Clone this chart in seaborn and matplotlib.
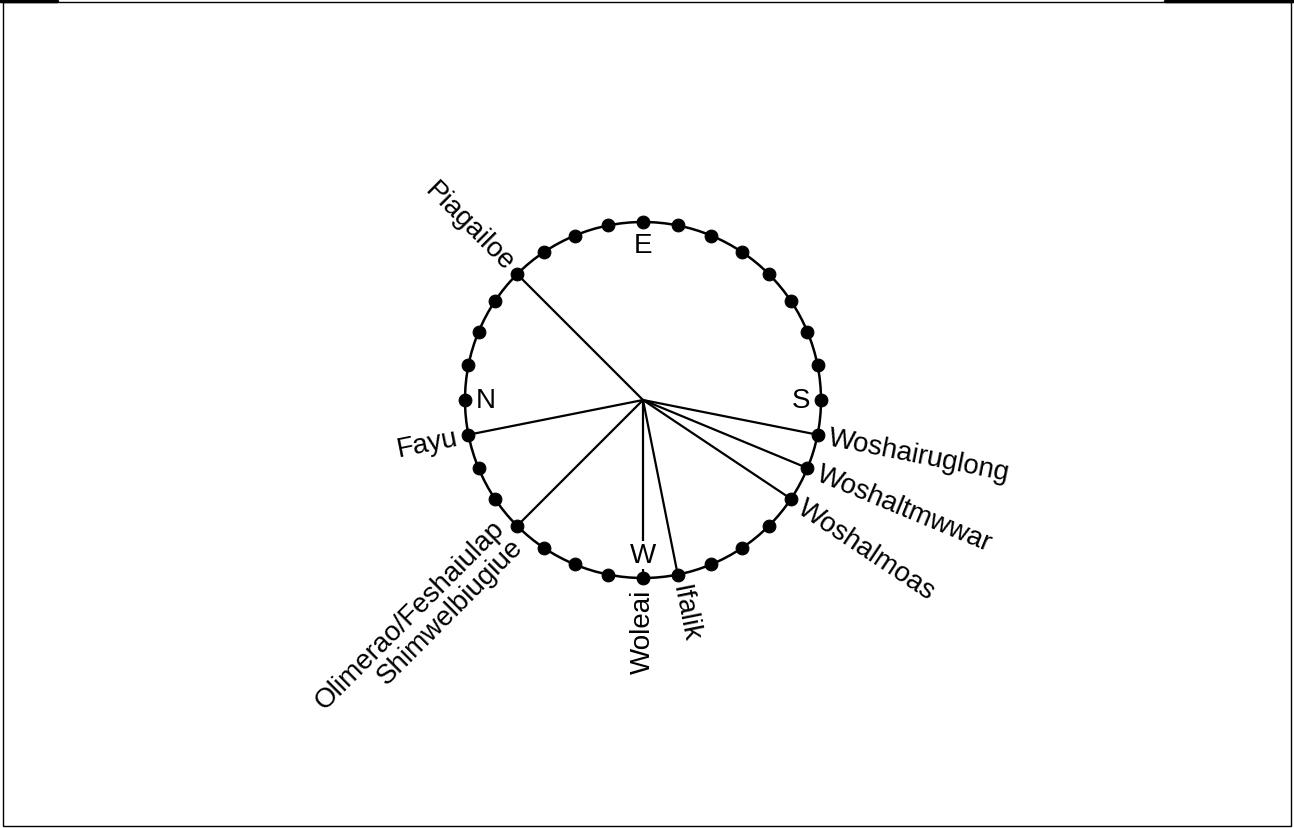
import numpy as np
import pandas as pd
import seaborn as sns
import matplotlib.pyplot as plt
from matplotlib.patches import Circle, Rectangle
from matplotlib.lines import Line2D

# star compass: 32 points, counted counter-clockwise from S (right side)
n_points = 32
cardinals = ["S", "E", "N", "W"]
cardinal_points = [0, 8, 16, 24]

destinations = ["Piagailoe", "Fayu", "Olimerao/Feshaiulap\nShimwelbiugiue",
                "Woleai", "Ifalik", "Woshalmoas", "Woshaltmwwar",
                "Woshairuglong"]
dest_points = [12, 17, 20, 24, 25, 29, 30, 31]


def point_xy(idx):
    ang = np.deg2rad(np.asarray(idx) * 360.0 / n_points)
    return np.cos(ang), np.sin(ang)


def main():
    sns.set_style("white")
    plt.rcParams["font.family"] = ["Liberation Sans", "DejaVu Sans"]
    plt.rcParams["text.color"] = "black"

    fig = plt.figure(figsize=(12.94, 8.29), dpi=100)
    ax = fig.add_axes([0, 0, 1, 1])
    ax.set_xlim(-643 / 178, (1294 - 643) / 178)
    ax.set_ylim(-(829 - 401) / 178, 401 / 178)
    ax.set_aspect("equal")
    ax.axis("off")

    # spokes from the centre to each destination
    for p in dest_points:
        x, y = point_xy(p)
        ax.plot([0, x], [0, y], color="black", lw=1.6, zorder=1)

    ax.add_patch(Circle((0, 0), 1, fill=False, ec="black", lw=1.8, zorder=2))

    xs, ys = point_xy(np.arange(n_points))
    dots = pd.DataFrame({"x": xs, "y": ys})
    sns.scatterplot(data=dots, x="x", y="y", color="black", s=85,
                    edgecolor="black", zorder=3, ax=ax, legend=False)

    # cardinal letters just inside the circle
    for name, p in zip(cardinals, cardinal_points):
        x, y = point_xy(p)
        r = 0.87 if name in ("E", "W") else 0.885
        ax.text(x * r, y * r, name, fontsize=20, ha="center", va="center",
                color="black", zorder=4,
                bbox=dict(fc="white", ec="none", pad=0.5))

    # destination names, radial
    for name, p in zip(destinations, dest_points):
        deg = p * 360.0 / n_points
        x, y = point_xy(p)
        r = 1.06
        if 90 < deg <= 270:
            rot, ha = deg - 180, "right"
        else:
            rot, ha = deg, "left"
        ax.text(x * r, y * r, name, fontsize=20, rotation=rot,
                rotation_mode="anchor", ha=ha, va="center", color="black",
                multialignment="right", linespacing=1.0, zorder=4)

    # page frame
    fig.add_artist(Rectangle((0.002, 0.003), 0.996, 0.993, fill=False,
                             ec="black", lw=1.0, transform=fig.transFigure))
    fig.add_artist(Line2D([0, 57 / 1294], [0.997, 0.997], color="black",
                          lw=2.5, transform=fig.transFigure))
    fig.add_artist(Line2D([1165 / 1294, 1], [0.997, 0.997], color="black",
                          lw=2.5, transform=fig.transFigure))

    fig.savefig("out.png", dpi=100)


if __name__ == '__main__':
    main()
